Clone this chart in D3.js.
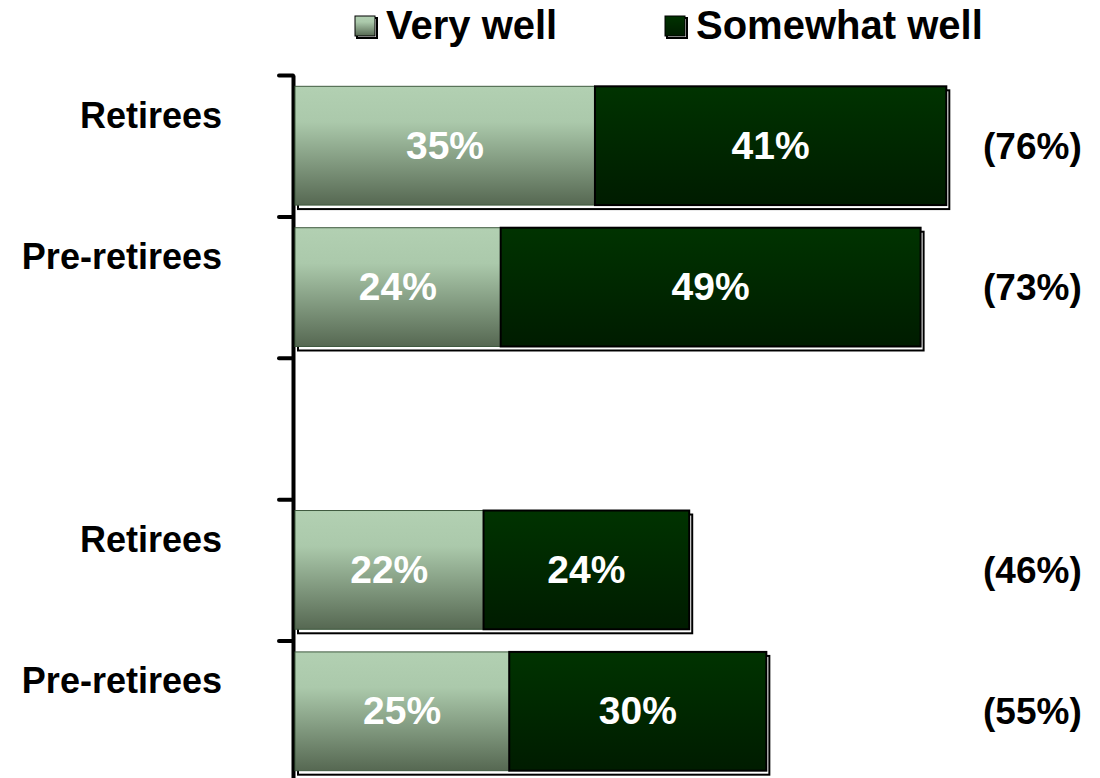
<!DOCTYPE html>
<html>
<head>
<meta charset="utf-8">
<script src="https://cdn.jsdelivr.net/npm/d3@7"></script>
<style>
  body { margin: 0; background: #fff; }
  svg { display: block; font-family: "Liberation Sans", Arial, sans-serif; font-weight: bold; }
</style>
</head>
<body>
<svg id="chart" width="1100" height="778"></svg>
<script>
// rows top to bottom, the empty one is the gap between the two groups
const categories = ["Retirees", "Pre-retirees", "", "Retirees", "Pre-retirees"];
const veryWell = [35, 24, null, 22, 25];
const somewhatWell = [41, 49, null, 24, 30];
const seriesNames = ["Very well", "Somewhat well"];

const svg = d3.select("#chart");
const defs = svg.append("defs");

// light bar gradient: flat on top, darker to the bottom
const gLight = defs.append("linearGradient").attr("id", "gLight")
    .attr("x1", 0).attr("y1", 0).attr("x2", 0).attr("y2", 1);
gLight.append("stop").attr("offset", "0%").attr("stop-color", "#b2d0b2");
gLight.append("stop").attr("offset", "30%").attr("stop-color", "#abc9ab");
gLight.append("stop").attr("offset", "100%").attr("stop-color", "#566852");

const gDark = defs.append("linearGradient").attr("id", "gDark")
    .attr("x1", 0).attr("y1", 0).attr("x2", 0).attr("y2", 1);
gDark.append("stop").attr("offset", "0%").attr("stop-color", "#003300");
gDark.append("stop").attr("offset", "100%").attr("stop-color", "#001c00");

const plotTop = 75, plotBottom = 782;
const y = d3.scaleBand()
    .domain(d3.range(categories.length))
    .range([plotTop, plotBottom])
    .paddingInner(0.16)
    .paddingOuter(0.08);

const x = d3.scaleLinear().domain([0, 100]).range([295, 1152]);

// axis with ticks on the band edges
const yEdge = d3.scaleLinear().domain([0, categories.length]).range([plotTop, plotBottom]);
const axis = svg.append("g")
    .attr("transform", "translate(293,0)")
    .call(d3.axisLeft(yEdge)
        .tickValues(d3.range(categories.length + 1))
        .tickSize(14)
        .tickSizeOuter(0)
        .tickFormat(""));
axis.select(".domain").attr("stroke", "#000").attr("stroke-width", 4);
axis.selectAll(".tick line").attr("stroke", "#000").attr("stroke-width", 4).attr("stroke-linecap", "round");

const rows = categories.map((c, i) => ({
    i: i, cat: c, a: veryWell[i], b: somewhatWell[i]
})).filter(d => d.a != null);

const bh = y.bandwidth();

// shadow outline behind each bar
svg.append("g").selectAll("rect")
    .data(rows).join("rect")
    .attr("x", d => x(0) + 3)
    .attr("y", d => y(d.i) + 4)
    .attr("width", d => x(d.a + d.b) - x(0))
    .attr("height", bh)
    .attr("fill", "#fff")
    .attr("stroke", "#000")
    .attr("stroke-width", 2);

// very well segments
svg.append("g").selectAll("rect")
    .data(rows).join("rect")
    .attr("x", x(0))
    .attr("y", d => y(d.i))
    .attr("width", d => x(d.a) - x(0))
    .attr("height", bh)
    .attr("fill", "url(#gLight)")
    .attr("stroke", "#3f5a3f")
    .attr("stroke-width", 1);

// somewhat well segments
svg.append("g").selectAll("rect")
    .data(rows).join("rect")
    .attr("x", d => x(d.a))
    .attr("y", d => y(d.i))
    .attr("width", d => x(d.a + d.b) - x(d.a))
    .attr("height", bh)
    .attr("fill", "url(#gDark)")
    .attr("stroke", "#000")
    .attr("stroke-width", 2);

// value labels inside the bars
const vals = svg.append("g").attr("fill", "#fff").attr("font-size", 39).attr("text-anchor", "middle");
rows.forEach(d => {
    const cy = y(d.i) + bh / 2 + 13;
    vals.append("text").attr("x", (x(0) + x(d.a)) / 2).attr("y", cy).text(d.a + "%");
    vals.append("text").attr("x", (x(d.a) + x(d.a + d.b)) / 2).attr("y", cy).text(d.b + "%");
});

// totals on the right
svg.append("g").attr("font-size", 37).attr("fill", "#000")
    .selectAll("text").data(rows).join("text")
    .attr("x", 983)
    .attr("y", d => y(d.i) + bh / 2 + 13)
    .text(d => "(" + (d.a + d.b) + "%)");

// category labels
svg.append("g").attr("font-size", 36).attr("fill", "#000").attr("text-anchor", "end")
    .selectAll("text").data(rows).join("text")
    .attr("x", 222)
    .attr("y", d => y(d.i) + bh / 2 - 18)
    .text(d => d.cat);

// legend
const legendX = [355, 665];
const legendFill = ["url(#gLight)", "url(#gDark)"];
const legend = svg.append("g");
seriesNames.forEach((name, k) => {
    const g = legend.append("g").attr("transform", `translate(${legendX[k]},16)`);
    g.append("rect").attr("x", 2).attr("y", 2).attr("width", 20).attr("height", 20)
        .attr("fill", "#fff").attr("stroke", "#000").attr("stroke-width", 2);
    g.append("rect").attr("width", 20).attr("height", 20)
        .attr("fill", legendFill[k]).attr("stroke", "#000").attr("stroke-width", 1);
    g.append("text").attr("x", 31).attr("y", 23).attr("font-size", 40).text(name);
});
</script>
</body>
</html>
